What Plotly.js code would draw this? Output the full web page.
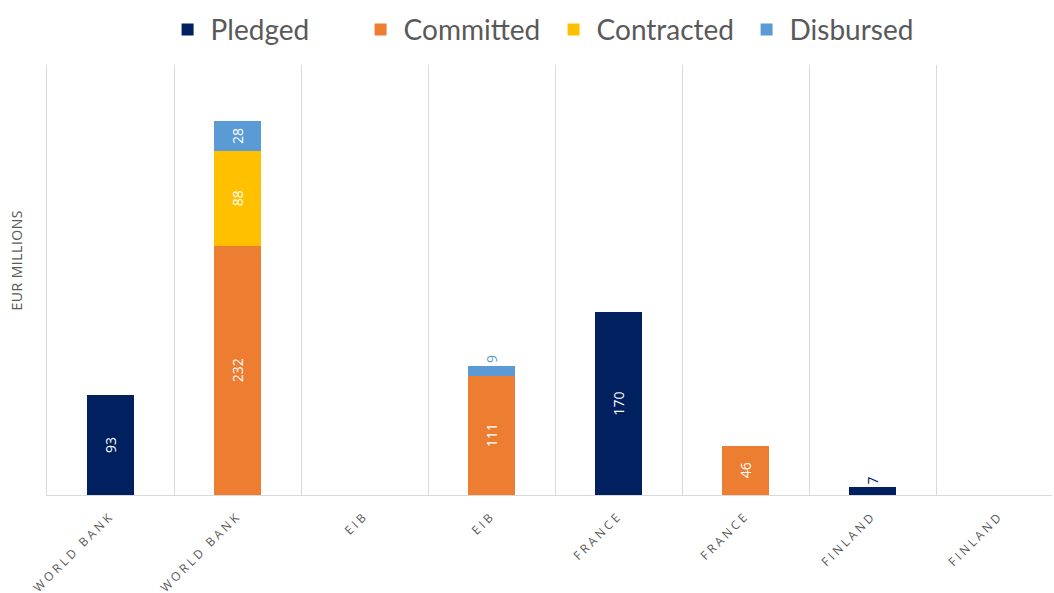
<!DOCTYPE html>
<html>
<head>
<meta charset="utf-8">
<script src="https://cdn.plot.ly/plotly-3.0.1.min.js"></script>
<style>
  body { margin: 0; background: #fff; }
  #chart { width: 1054px; height: 593px; }
  .xtick text { letter-spacing: 3px; }
  .annotation-text { letter-spacing: 0.5px; }
</style>
</head>
<body>
<div id="chart"></div>
<script>
// categories along the x axis (labels repeat, so bars sit on index positions)
const categories = ["WORLD BANK", "WORLD BANK", "EIB", "EIB", "FRANCE", "FRANCE", "FINLAND", "FINLAND"];
const positions = categories.map((c, i) => i);

// series values, EUR millions
const pledged    = [93, null, null, null, 170, null, 7, null];
const committed  = [null, 232, null, 111, null, 46, null, null];
const contracted = [null, 88, null, null, null, null, null, null];
const disbursed  = [null, 28, null, 9, null, null, null, null];

const colors = {
  pledged: "#002060",
  committed: "#ED7D31",
  contracted: "#FFC000",
  disbursed: "#5B9BD5"
};

// small segments get their label above the bar
function textPos(vals) {
  return vals.map(v => (v !== null && v < 15) ? "outside" : "inside");
}

function makeTrace(name, vals, color) {
  return {
    x: positions,
    y: vals,
    name: name,
    type: "bar",
    marker: {color: color},
    text: vals.map(v => v === null ? "" : String(v)),
    textposition: textPos(vals),
    textangle: -90,
    insidetextanchor: "middle",
    insidetextfont: {color: "#ffffff", size: 14, family: "Open Sans"},
    outsidetextfont: {color: color, size: 14, family: "Open Sans"},
    cliponaxis: false,
    hoverinfo: "name+y"
  };
}

const data = [
  makeTrace("Pledged", pledged, colors.pledged),
  makeTrace("Committed", committed, colors.committed),
  makeTrace("Contracted", contracted, colors.contracted),
  makeTrace("Disbursed", disbursed, colors.disbursed)
];

const layout = {
  width: 1054,
  height: 593,
  barmode: "stack",
  bargap: 0.63,
  paper_bgcolor: "#ffffff",
  plot_bgcolor: "#ffffff",
  margin: {l: 47, r: 2, t: 65, b: 98},
  font: {family: "Open Sans", color: "#595959"},
  showlegend: true,
  legend: {
    orientation: "h",
    x: 0.117,
    xanchor: "left",
    y: 1.14,
    yanchor: "top",
    itemwidth: 36,
    entrywidth: 142,
    font: {size: 28, color: "#595959", family: "Lato"},
    traceorder: "normal"
  },
  xaxis: {
    range: [-0.5, 7.413],
    tickmode: "array",
    tickvals: positions,
    ticktext: categories,
    tickangle: -45,
    ticklabelstandoff: 8,
    tickfont: {size: 12, color: "#595959", family: "Open Sans"},
    ticks: "",
    showgrid: false,
    zeroline: false,
    showline: true,
    linecolor: "#d9d9d9",
    linewidth: 1,
    minor: {
      tickmode: "linear",
      tick0: -0.5,
      dtick: 1,
      showgrid: true,
      gridcolor: "#d9d9d9",
      gridwidth: 1,
      ticks: ""
    },
    fixedrange: true
  },
  yaxis: {
    range: [0, 400],
    showticklabels: false,
    ticks: "",
    showgrid: false,
    zeroline: false,
    showline: true,
    linecolor: "#d9d9d9",
    linewidth: 1,
    fixedrange: true
  },
  annotations: [{
    text: "EUR MILLIONS",
    xref: "paper",
    yref: "paper",
    x: -0.03,
    y: 0.545,
    xanchor: "center",
    yanchor: "middle",
    textangle: -90,
    showarrow: false,
    font: {size: 14, color: "#595959", family: "Open Sans"}
  }]
};

Plotly.newPlot("chart", data, layout, {displayModeBar: false, staticPlot: true});
</script>
</body>
</html>
